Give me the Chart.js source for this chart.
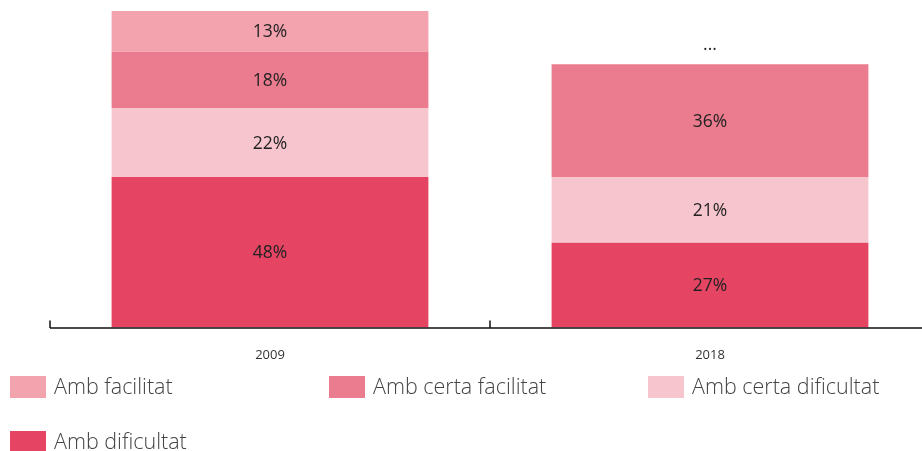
<!DOCTYPE html>
<html>
<head>
<meta charset="utf-8">
<script src="https://cdn.jsdelivr.net/npm/chart.js@4/dist/chart.umd.min.js"></script>
<style>
  html, body { margin: 0; padding: 0; background: #fff; }
  #wrap { position: relative; width: 922px; height: 451px; overflow: hidden; }
  #chart { position: absolute; left: 0; top: 0; }
  #legend { position: absolute; left: 10px; top: 375px; width: 912px; font-family: "Open Sans", "DejaVu Sans", sans-serif; font-weight: 300; font-size: 21.5px; color: #444; }
  .item { position: absolute; display: flex; align-items: center; height: 24px; }
  .box { width: 36px; height: 22px; margin-right: 8px; }
  .txt { position: relative; top: -1px; line-height: 24px; }
</style>
</head>
<body>
<div id="wrap">
  <canvas id="chart" width="930" height="451"></canvas>
  <div id="legend"></div>
</div>
<script>
// Years on the x axis
const years = ['2009', '2018'];

// Shares per answer, stacked bottom to top (null = no data)
const ambDificultat = [48, 27];
const ambCertaDificultat = [22, 21];
const ambCertaFacilitat = [18, 36];
const ambFacilitat = [13, null];

const seriesNames = ['Amb dificultat', 'Amb certa dificultat', 'Amb certa facilitat', 'Amb facilitat'];
const seriesColors = ['#E54463', '#F7C5CE', '#EB7B8E', '#F2A3AE'];
const seriesValues = [ambDificultat, ambCertaDificultat, ambCertaFacilitat, ambFacilitat];

const datasets = seriesValues.map((vals, i) => ({
  label: seriesNames[i],
  data: vals,
  backgroundColor: seriesColors[i],
  borderWidth: 0,
  categoryPercentage: 1,
  barPercentage: 0.72
}));

// Percentage labels in the middle of each segment; "..." above a stack with missing data
const segmentLabels = {
  id: 'segmentLabels',
  afterDatasetsDraw(chart) {
    const ctx = chart.ctx;
    ctx.save();
    ctx.font = '400 17.5px "Open Sans", "DejaVu Sans", sans-serif';
    ctx.fillStyle = '#222';
    ctx.textAlign = 'center';
    ctx.textBaseline = 'middle';
    const y = chart.scales.y;
    chart.data.datasets.forEach((ds, di) => {
      const meta = chart.getDatasetMeta(di);
      meta.data.forEach((bar, i) => {
        const v = ds.data[i];
        if (v === null || v === undefined) {
          let total = 0;
          chart.data.datasets.forEach(d => { total += d.data[i] || 0; });
          ctx.fillText('...', bar.x, y.getPixelForValue(total) - 19);
        } else {
          ctx.fillText(v + '%', bar.x, (bar.y + bar.base) / 2 + 1);
        }
      });
    });
    ctx.restore();
  }
};

// Baseline with small upward ticks at the category boundaries
const baseAxis = {
  id: 'baseAxis',
  afterDraw(chart) {
    const ctx = chart.ctx;
    const x = chart.scales.x;
    const area = chart.chartArea;
    const step = x.getPixelForValue(1) - x.getPixelForValue(0);
    ctx.save();
    ctx.strokeStyle = '#111';
    ctx.lineWidth = 1.5;
    ctx.beginPath();
    ctx.moveTo(area.left, area.bottom + 0.5);
    ctx.lineTo(area.right, area.bottom + 0.5);
    for (let i = 0; i <= years.length; i++) {
      const px = Math.round(x.getPixelForValue(i) - step / 2);
      ctx.moveTo(px, area.bottom + 0.5);
      ctx.lineTo(px, area.bottom - 7);
    }
    ctx.stroke();
    ctx.restore();
  }
};

// HTML legend built from the chart's own legend items
const htmlLegend = {
  id: 'htmlLegend',
  afterUpdate(chart) {
    const el = document.getElementById('legend');
    el.innerHTML = '';
    const items = chart.options.plugins.legend.labels.generateLabels(chart).reverse();
    items.forEach((it, k) => {
      const d = document.createElement('div');
      d.className = 'item';
      d.style.left = (k % 3) * 319 + 'px';
      d.style.top = Math.floor(k / 3) * 55 + 'px';
      const b = document.createElement('span');
      b.className = 'box';
      b.style.background = it.fillStyle;
      const t = document.createElement('span');
      t.className = 'txt';
      t.textContent = it.text;
      d.appendChild(b);
      d.appendChild(t);
      el.appendChild(d);
    });
  }
};

new Chart(document.getElementById('chart'), {
  type: 'bar',
  data: { labels: years, datasets: datasets },
  options: {
    responsive: false,
    animation: false,
    layout: { padding: { left: 50, right: 0, top: 11, bottom: 68 } },
    plugins: {
      legend: { display: false },
      tooltip: { enabled: false }
    },
    scales: {
      x: {
        stacked: true,
        grid: { display: false, drawTicks: false },
        border: { display: false },
        ticks: {
          color: '#333',
          padding: 20,
          font: { family: '"Open Sans", "DejaVu Sans", sans-serif', size: 13 }
        }
      },
      y: {
        stacked: true,
        display: false,
        min: 0,
        max: 101
      }
    }
  },
  plugins: [segmentLabels, baseAxis, htmlLegend]
});
</script>
</body>
</html>
